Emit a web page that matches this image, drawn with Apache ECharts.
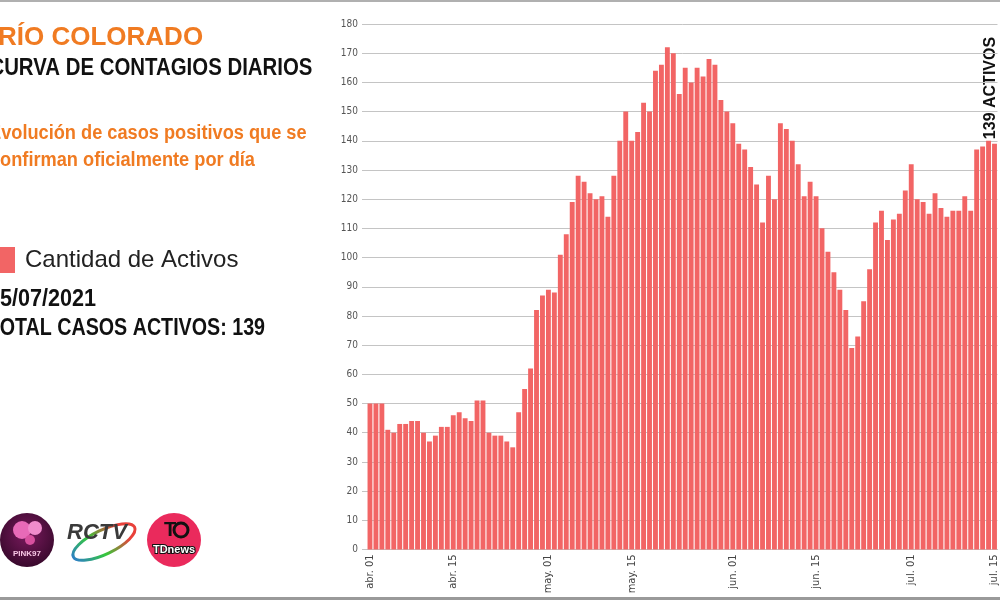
<!DOCTYPE html>
<html>
<head>
<meta charset="utf-8">
<script src="https://cdn.jsdelivr.net/npm/echarts@6/dist/echarts.min.js"></script>
<style>
html,body{margin:0;padding:0;background:#fff;}
#chart{width:1000px;height:600px;}
</style>
</head>
<body>
<div id="chart"></div>
<script>
// Month prefixes and number of days shown for each month (abr. 01 .. jul. 15)
var monthNames = ['abr.', 'may.', 'jun.', 'jul.'];
var monthDays = [30, 31, 30, 15];
var shownDays = ['01', '15'];

// Active cases per day
var activosAbr = [50,50,50,41,40,43,43,44,44,40,37,39,42,42,46,47,45,44,51,51,40,39,39,37,35,47,55,62,82,87];
var activosMay = [89,88,101,108,119,128,126,122,120,121,114,128,140,150,140,143,153,150,164,166,172,170,156,165,160,165,162,168,166,154,150];
var activosJun = [146,139,137,131,125,112,128,120,146,144,140,132,121,126,121,110,102,95,89,82,69,73,85,96,112,116,106,113,115,123];
var activosJul = [132,120,119,115,122,117,114,116,116,121,116,137,138,140,139];

var yTicks = {min: 0, max: 180, interval: 10};

var categories = [];
monthNames.forEach(function (m, i) {
  for (var d = 1; d <= monthDays[i]; d++) {
    categories.push(m + ' ' + (d < 10 ? '0' + d : '' + d));
  }
});
var activos = activosAbr.concat(activosMay, activosJun, activosJul);
var lastValue = activos[activos.length - 1];

var BAR = '#f26565';
var ORANGE = '#f07b22';
var COND = "'Liberation Sans Narrow', 'DejaVu Sans Condensed', 'Liberation Sans', Arial, sans-serif";
var SANS = "'Liberation Sans', Arial, Helvetica, sans-serif";

var chart = echarts.init(document.getElementById('chart'));

chart.setOption({
  animation: false,
  backgroundColor: '#ffffff',
  grid: {left: 367, right: 2, top: 24, bottom: 50.5, containLabel: false},
  xAxis: {
    type: 'category',
    data: categories,
    boundaryGap: true,
    axisLine: {show: true, lineStyle: {color: '#c4c4c4', width: 1}},
    axisTick: {show: false},
    splitLine: {show: false},
    axisLabel: {
      rotate: 90,
      margin: 5,
      fontSize: 11,
      fontFamily: COND,
      color: '#444',
      interval: function (idx, val) {
        return shownDays.indexOf(val.slice(-2)) >= 0;
      }
    }
  },
  yAxis: {
    type: 'value',
    min: yTicks.min,
    max: yTicks.max,
    interval: yTicks.interval,
    axisLine: {show: false},
    axisTick: {show: true, length: 5, lineStyle: {color: '#c4c4c4'}},
    splitLine: {show: true, lineStyle: {color: '#c4c4c4', width: 1}},
    axisLabel: {margin: 9, fontSize: 10, fontFamily: COND, color: '#555'}
  },
  series: [{
    type: 'bar',
    name: 'Cantidad de Activos',
    data: activos,
    barCategoryGap: '18%',
    itemStyle: {color: BAR},
    silent: true
  }],
  graphic: [
    // frame lines
    {type: 'rect', shape: {x: 0, y: 0, width: 1000, height: 2}, style: {fill: '#b0b0b0'}, silent: true},
    {type: 'rect', shape: {x: 0, y: 597, width: 1000, height: 3}, style: {fill: '#9a9a9a'}, silent: true},
    // titles
    {type: 'text', x: -2, y: 38, style: {text: 'RÍO COLORADO', fontSize: 26, fontWeight: 'bold', fontFamily: SANS, fill: ORANGE, align: 'left', verticalAlign: 'middle'}},
    {type: 'text', x: -10.6, y: 68.5, scaleX: 0.85, style: {text: 'CURVA DE CONTAGIOS DIARIOS', fontSize: 24, fontWeight: 'bold', fontFamily: SANS, fill: '#111', align: 'left', verticalAlign: 'middle'}},
    {type: 'text', x: -11, y: 133, scaleX: 0.91, style: {text: 'Evolución de casos positivos que se', fontSize: 20, fontWeight: 'bold', fontFamily: SANS, fill: ORANGE, align: 'left', verticalAlign: 'middle'}},
    {type: 'text', x: -10, y: 160, scaleX: 0.91, style: {text: 'confirman oficialmente por día', fontSize: 20, fontWeight: 'bold', fontFamily: SANS, fill: ORANGE, align: 'left', verticalAlign: 'middle'}},
    // legend
    {type: 'rect', shape: {x: -11, y: 247, width: 26, height: 26}, style: {fill: BAR}},
    {type: 'text', x: 25, y: 260, style: {text: 'Cantidad de Activos', fontSize: 24, fontFamily: SANS, fill: '#222', align: 'left', verticalAlign: 'middle'}},
    {type: 'text', x: -12, y: 299.5, scaleX: 0.9, style: {text: '15/07/2021', fontSize: 24, fontWeight: 'bold', fontFamily: SANS, fill: '#111', align: 'left', verticalAlign: 'middle'}},
    {type: 'text', x: -12, y: 328, scaleX: 0.82, style: {text: 'TOTAL CASOS ACTIVOS: ' + lastValue, fontSize: 24, fontWeight: 'bold', fontFamily: SANS, fill: '#111', align: 'left', verticalAlign: 'middle'}},
    // annotation
    {type: 'text', x: 991, y: 88, rotation: Math.PI / 2, style: {text: lastValue + ' ACTIVOS', fontSize: 16, fontWeight: 'bold', fontFamily: SANS, fill: '#111', align: 'center', verticalAlign: 'middle'}},
    // logos: Pink97
    {type: 'circle', shape: {cx: 27, cy: 540, r: 27}, style: {fill: new echarts.graphic.RadialGradient(0.5, 0.4, 0.7, [{offset: 0, color: '#7a1a5e'}, {offset: 1, color: '#2e0624'}])}},
    {type: 'circle', shape: {cx: 22, cy: 530, r: 9}, style: {fill: '#e86ab8'}},
    {type: 'circle', shape: {cx: 35, cy: 528, r: 7}, style: {fill: '#f08ccc'}},
    {type: 'circle', shape: {cx: 30, cy: 540, r: 5}, style: {fill: '#d8509f'}},
    {type: 'text', x: 27, y: 554, style: {text: 'PINK97', fontSize: 8, fontWeight: 'bold', fontFamily: SANS, fill: '#f6c6e4', align: 'center', verticalAlign: 'middle'}},
    // RCTV
    {type: 'ellipse', shape: {cx: 104, cy: 542, rx: 34, ry: 12}, rotation: 0.45, originX: 104, originY: 542,
      style: {fill: 'none', lineWidth: 3, stroke: new echarts.graphic.LinearGradient(0, 1, 1, 0, [{offset: 0, color: '#2a6ee6'}, {offset: 0.4, color: '#35c93a'}, {offset: 0.75, color: '#e8413a'}, {offset: 1, color: '#e8413a'}])}},
    {type: 'text', x: 97, y: 533, style: {text: 'RCTV', fontSize: 22, fontWeight: 'bold', fontStyle: 'italic', fontFamily: SANS, fill: '#3a3a3a', align: 'center', verticalAlign: 'middle'}},
    // TDnews
    {type: 'circle', shape: {cx: 174, cy: 540, r: 27}, style: {fill: '#ea2a5c'}},
    {type: 'text', x: 170, y: 530, style: {text: 'T', fontSize: 20, fontWeight: 'bold', fontFamily: SANS, fill: '#111', align: 'center', verticalAlign: 'middle'}},
    {type: 'circle', shape: {cx: 181, cy: 530, r: 7}, style: {fill: 'none', stroke: '#111', lineWidth: 3}},
    {type: 'text', x: 174, y: 550, style: {text: 'TDnews', fontSize: 11, fontWeight: 'bold', fontFamily: SANS, fill: '#fff', stroke: '#111', lineWidth: 2, align: 'center', verticalAlign: 'middle'}}
  ]
});
</script>
</body>
</html>
